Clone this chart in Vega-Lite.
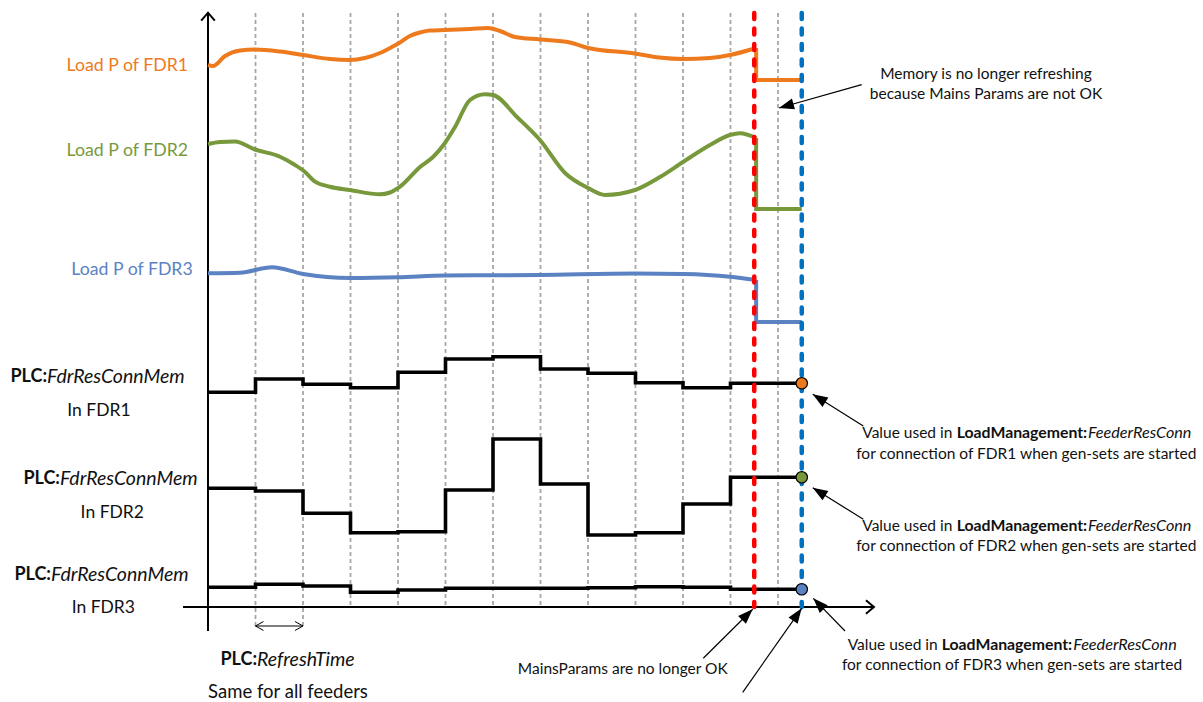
{
  "$schema": "https://vega.github.io/schema/vega-lite/v6.json",
  "width": 1203,
  "height": 702,
  "autosize": {"type": "fit", "contains": "padding"},
  "padding": 0,
  "background": "white",
  "config": {"view": {"stroke": null}, "text": {"font": "Lato", "color": "#111111", "baseline": "middle"}},
  "datasets": {
    "grid": [
      {"t": 1, "v": 59.4, "v2": -2.2}, {"t": 2, "v": 59.4, "v2": -2.2},
      {"t": 3, "v": 59.4, "v2": 0}, {"t": 4, "v": 59.4, "v2": 0}, {"t": 5, "v": 59.4, "v2": 0},
      {"t": 6, "v": 59.4, "v2": 0}, {"t": 7, "v": 59.4, "v2": 0}, {"t": 8, "v": 59.4, "v2": 0},
      {"t": 9, "v": 59.4, "v2": 0}, {"t": 10, "v": 59.4, "v2": 0}, {"t": 11, "v": 59.4, "v2": 0},
      {"t": 12, "v": 59.4, "v2": 0}
    ],
    "axes": [
      {"t": 0, "v": 59.4, "t2": 0, "v2": -2.4},
      {"t": -0.526, "v": 0, "t2": 14.0, "v2": 0}
    ],
    "axisHeads": [
      {"t": 0, "v": 59.43, "heading": 0},
      {"t": 14.02, "v": 0, "heading": 90}
    ],
    "span": [
      {"t": 1, "v": -1.9, "t2": 2, "v2": -1.9}
    ],
    "spanHeads": [
      {"t": 1, "v": -1.9, "heading": 270},
      {"t": 2, "v": -1.9, "heading": 90}
    ],
    "events": [
      {"event": "MainsParams no longer OK", "t": 11.5, "v": 59.4, "v2": 0},
      {"event": "Gen-sets started", "t": 12.5, "v": 59.4, "v2": 0}
    ],
    "load": [
      {"series": "FDR1", "t": 0, "v": 54.2}, {"series": "FDR1", "t": 0.105, "v": 54.1},
      {"series": "FDR1", "t": 0.358, "v": 55.1}, {"series": "FDR1", "t": 0.674, "v": 55.65},
      {"series": "FDR1", "t": 0.99, "v": 55.75}, {"series": "FDR1", "t": 1.516, "v": 55.55},
      {"series": "FDR1", "t": 2.0, "v": 55.2}, {"series": "FDR1", "t": 2.568, "v": 54.8},
      {"series": "FDR1", "t": 2.989, "v": 54.7}, {"series": "FDR1", "t": 3.305, "v": 54.9},
      {"series": "FDR1", "t": 3.62, "v": 55.4}, {"series": "FDR1", "t": 3.87, "v": 56.0},
      {"series": "FDR1", "t": 4.04, "v": 56.45}, {"series": "FDR1", "t": 4.25, "v": 57.1},
      {"series": "FDR1", "t": 4.46, "v": 57.45}, {"series": "FDR1", "t": 4.67, "v": 57.65},
      {"series": "FDR1", "t": 4.99, "v": 57.7}, {"series": "FDR1", "t": 5.516, "v": 57.8},
      {"series": "FDR1", "t": 5.895, "v": 57.9}, {"series": "FDR1", "t": 6.147, "v": 57.6},
      {"series": "FDR1", "t": 6.463, "v": 57.0}, {"series": "FDR1", "t": 6.989, "v": 56.75},
      {"series": "FDR1", "t": 7.62, "v": 56.45}, {"series": "FDR1", "t": 8.0, "v": 55.9},
      {"series": "FDR1", "t": 8.989, "v": 55.35}, {"series": "FDR1", "t": 9.5, "v": 54.95},
      {"series": "FDR1", "t": 10.0, "v": 54.8}, {"series": "FDR1", "t": 10.57, "v": 54.9},
      {"series": "FDR1", "t": 10.99, "v": 55.2}, {"series": "FDR1", "t": 11.54, "v": 55.9},
      {"series": "FDR2", "t": 0, "v": 46.3}, {"series": "FDR2", "t": 0.253, "v": 46.5},
      {"series": "FDR2", "t": 0.568, "v": 46.55}, {"series": "FDR2", "t": 0.989, "v": 45.75},
      {"series": "FDR2", "t": 1.516, "v": 45.03}, {"series": "FDR2", "t": 1.832, "v": 44.2},
      {"series": "FDR2", "t": 2.042, "v": 43.5}, {"series": "FDR2", "t": 2.253, "v": 42.53},
      {"series": "FDR2", "t": 2.568, "v": 42.03}, {"series": "FDR2", "t": 2.989, "v": 41.7},
      {"series": "FDR2", "t": 3.621, "v": 41.27}, {"series": "FDR2", "t": 3.832, "v": 41.45},
      {"series": "FDR2", "t": 4.042, "v": 42.03}, {"series": "FDR2", "t": 4.463, "v": 44.0},
      {"series": "FDR2", "t": 4.737, "v": 45.0}, {"series": "FDR2", "t": 4.989, "v": 46.4},
      {"series": "FDR2", "t": 5.2, "v": 48.0}, {"series": "FDR2", "t": 5.516, "v": 50.7},
      {"series": "FDR2", "t": 5.832, "v": 51.27}, {"series": "FDR2", "t": 6.0, "v": 51.2},
      {"series": "FDR2", "t": 6.505, "v": 49.0}, {"series": "FDR2", "t": 6.989, "v": 46.7},
      {"series": "FDR2", "t": 7.516, "v": 43.4}, {"series": "FDR2", "t": 8.0, "v": 41.9},
      {"series": "FDR2", "t": 8.358, "v": 41.2}, {"series": "FDR2", "t": 8.989, "v": 41.7},
      {"series": "FDR2", "t": 9.516, "v": 43.0}, {"series": "FDR2", "t": 10.0, "v": 44.5},
      {"series": "FDR2", "t": 10.568, "v": 46.2}, {"series": "FDR2", "t": 10.989, "v": 47.2},
      {"series": "FDR2", "t": 11.2, "v": 47.37}, {"series": "FDR2", "t": 11.54, "v": 46.9},
      {"series": "FDR3", "t": 0, "v": 33.37}, {"series": "FDR3", "t": 0.674, "v": 33.43},
      {"series": "FDR3", "t": 1.347, "v": 33.97}, {"series": "FDR3", "t": 2.0, "v": 33.3},
      {"series": "FDR3", "t": 2.989, "v": 32.9}, {"series": "FDR3", "t": 4.0, "v": 32.97},
      {"series": "FDR3", "t": 4.989, "v": 33.15}, {"series": "FDR3", "t": 6.989, "v": 33.2},
      {"series": "FDR3", "t": 8.989, "v": 33.35}, {"series": "FDR3", "t": 10.0, "v": 33.3},
      {"series": "FDR3", "t": 10.989, "v": 33.03}, {"series": "FDR3", "t": 11.54, "v": 32.7}
    ],
    "hold": [
      {"series": "FDR1", "t": 11.54, "v": 55.9}, {"series": "FDR1", "t": 11.54, "v": 52.7}, {"series": "FDR1", "t": 12.5, "v": 52.7},
      {"series": "FDR2", "t": 11.54, "v": 46.9}, {"series": "FDR2", "t": 11.54, "v": 39.8}, {"series": "FDR2", "t": 12.5, "v": 39.8},
      {"series": "FDR3", "t": 11.54, "v": 32.7}, {"series": "FDR3", "t": 11.54, "v": 28.5}, {"series": "FDR3", "t": 12.5, "v": 28.5}
    ],
    "mem": [
      {"series": "FDR1", "t": 0, "v": 21.47}, {"series": "FDR1", "t": 1, "v": 22.8}, {"series": "FDR1", "t": 2, "v": 22.27},
      {"series": "FDR1", "t": 3, "v": 21.93}, {"series": "FDR1", "t": 4, "v": 23.47}, {"series": "FDR1", "t": 5, "v": 24.8},
      {"series": "FDR1", "t": 6, "v": 25.03}, {"series": "FDR1", "t": 7, "v": 23.8}, {"series": "FDR1", "t": 8, "v": 23.37},
      {"series": "FDR1", "t": 9, "v": 22.43}, {"series": "FDR1", "t": 10, "v": 21.93}, {"series": "FDR1", "t": 11, "v": 22.37},
      {"series": "FDR1", "t": 12.5, "v": 22.37},
      {"series": "FDR2", "t": 0, "v": 11.87}, {"series": "FDR2", "t": 1, "v": 11.6}, {"series": "FDR2", "t": 2, "v": 9.37},
      {"series": "FDR2", "t": 3, "v": 7.43}, {"series": "FDR2", "t": 4, "v": 7.53}, {"series": "FDR2", "t": 5, "v": 11.7},
      {"series": "FDR2", "t": 6, "v": 16.8}, {"series": "FDR2", "t": 7, "v": 12.3}, {"series": "FDR2", "t": 8, "v": 7.2},
      {"series": "FDR2", "t": 9, "v": 7.43}, {"series": "FDR2", "t": 10, "v": 10.3}, {"series": "FDR2", "t": 11, "v": 12.97},
      {"series": "FDR2", "t": 12.5, "v": 12.97},
      {"series": "FDR3", "t": 0, "v": 1.97}, {"series": "FDR3", "t": 1, "v": 2.27}, {"series": "FDR3", "t": 2, "v": 2.1},
      {"series": "FDR3", "t": 3, "v": 1.47}, {"series": "FDR3", "t": 4, "v": 1.7}, {"series": "FDR3", "t": 5, "v": 1.87},
      {"series": "FDR3", "t": 6, "v": 1.87}, {"series": "FDR3", "t": 7, "v": 1.87}, {"series": "FDR3", "t": 8, "v": 1.93},
      {"series": "FDR3", "t": 9, "v": 2.03}, {"series": "FDR3", "t": 10, "v": 1.97}, {"series": "FDR3", "t": 11, "v": 1.77},
      {"series": "FDR3", "t": 12.5, "v": 1.77}
    ],
    "used": [
      {"series": "FDR1", "t": 12.5, "v": 22.37},
      {"series": "FDR2", "t": 12.5, "v": 12.97},
      {"series": "FDR3", "t": 12.5, "v": 1.77}
    ],
    "arrows": [
      {"t": 12.021, "v": 49.9, "t2": 13.762, "v2": 52.23, "heading": 254.3},
      {"t": 12.731, "v": 21.27, "t2": 13.796, "v2": 18.1, "heading": 302.1},
      {"t": 12.731, "v": 11.93, "t2": 13.796, "v2": 8.77, "heading": 302.0},
      {"t": 12.743, "v": 0.87, "t2": 13.411, "v2": -2.4, "heading": 315.9},
      {"t": 11.467, "v": -0.23, "t2": 10.427, "v2": -5.13, "heading": 45.2},
      {"t": 12.499, "v": -0.13, "t2": 11.257, "v2": -8.53, "heading": 35.1}
    ],
    "labels": [
      {"kind": "load", "series": "FDR1", "t": -0.421, "v": 54.15, "text": "Load P of FDR1"},
      {"kind": "load", "series": "FDR2", "t": -0.421, "v": 45.65, "text": "Load P of FDR2"},
      {"kind": "load", "series": "FDR3", "t": -0.322, "v": 33.73, "text": "Load P of FDR3"},
      {"kind": "keyBold", "t": -3.389, "v": 23.0, "text": "PLC:"},
      {"kind": "keyItalic", "t": -3.389, "v": 23.0, "text": "FdrResConnMem"},
      {"kind": "keyBold", "t": -3.116, "v": 12.8, "text": "PLC:"},
      {"kind": "keyItalic", "t": -3.116, "v": 12.8, "text": "FdrResConnMem"},
      {"kind": "keyBold", "t": -3.305, "v": 3.25, "text": "PLC:"},
      {"kind": "keyItalic", "t": -3.305, "v": 3.25, "text": "FdrResConnMem"},
      {"kind": "keyBold", "t": 1.032, "v": -5.25, "text": "PLC:"},
      {"kind": "keyItalic", "t": 1.032, "v": -5.25, "text": "RefreshTime"},
      {"kind": "sub", "t": -2.295, "v": 19.58, "text": "In FDR1"},
      {"kind": "sub", "t": -2.015, "v": 9.42, "text": "In FDR2"},
      {"kind": "sub", "t": -2.204, "v": -0.08, "text": "In FDR3"},
      {"kind": "subWide", "t": 1.684, "v": -8.53, "text": "Same for all feeders"},
      {"kind": "note", "t": 16.379, "v": 53.3, "text": "Memory is no longer refreshing"},
      {"kind": "note", "t": 16.379, "v": 51.3, "text": "because Mains Params are not OK"},
      {"kind": "note", "t": 8.733, "v": -6.17, "text": "MainsParams are no longer OK"},
      {"kind": "note", "t": 17.227, "v": 15.32, "text": "for connection of FDR1 when gen-sets are started"},
      {"kind": "note", "t": 17.227, "v": 6.12, "text": "for connection of FDR2 when gen-sets are started"},
      {"kind": "note", "t": 16.926, "v": -5.75, "text": "for connection of FDR3 when gen-sets are started"},
      {"kind": "noteLead", "t": 13.775, "v": 17.38, "text": "Value used in"},
      {"kind": "noteBold", "t": 15.762, "v": 17.38, "text": "LoadManagement:"},
      {"kind": "noteItalic", "t": 18.526, "v": 17.38, "text": "FeederResConn"},
      {"kind": "noteLead", "t": 13.775, "v": 8.12, "text": "Value used in"},
      {"kind": "noteBold", "t": 15.762, "v": 8.12, "text": "LoadManagement:"},
      {"kind": "noteItalic", "t": 18.526, "v": 8.12, "text": "FeederResConn"},
      {"kind": "noteLead", "t": 13.467, "v": -3.78, "text": "Value used in"},
      {"kind": "noteBold", "t": 15.446, "v": -3.78, "text": "LoadManagement:"},
      {"kind": "noteItalic", "t": 18.217, "v": -3.78, "text": "FeederResConn"}
    ]
  },
  "encoding": {
    "x": {"field": "t", "type": "quantitative", "scale": {"domain": [-4.3789, 20.9474], "nice": false, "zero": false}, "axis": null},
    "y": {"field": "v", "type": "quantitative", "scale": {"domain": [-9.5, 60.7], "nice": false, "zero": false}, "axis": null}
  },
  "layer": [
    {
      "data": {"name": "grid"},
      "mark": {"type": "rule", "color": "#A6A6A6", "strokeWidth": 1.8, "strokeDash": [4, 3]},
      "encoding": {"y2": {"field": "v2"}}
    },
    {
      "data": {"name": "axes"},
      "mark": {"type": "rule", "color": "#000000", "strokeWidth": 2},
      "encoding": {"x2": {"field": "t2"}, "y2": {"field": "v2"}}
    },
    {
      "data": {"name": "axisHeads"},
      "mark": {"type": "point", "shape": "M -0.85 1 L 0 0 L 0.85 1", "filled": false, "stroke": "#000000", "strokeWidth": 2, "size": 256, "opacity": 1},
      "encoding": {"angle": {"field": "heading", "type": "quantitative", "scale": null}}
    },
    {
      "data": {"name": "span"},
      "mark": {"type": "rule", "color": "#000000", "strokeWidth": 1},
      "encoding": {"x2": {"field": "t2"}, "y2": {"field": "v2"}}
    },
    {
      "data": {"name": "spanHeads"},
      "mark": {"type": "point", "shape": "M -0.56 1 L 0 0 L 0.56 1", "filled": false, "stroke": "#000000", "strokeWidth": 1, "size": 256, "opacity": 1},
      "encoding": {"angle": {"field": "heading", "type": "quantitative", "scale": null}}
    },
    {
      "data": {"name": "load"},
      "mark": {"type": "line", "interpolate": "monotone", "strokeWidth": 4},
      "encoding": {
        "color": {"field": "series", "type": "nominal", "scale": {"domain": ["FDR1", "FDR2", "FDR3"], "range": ["#EE7A1E", "#77993C", "#5B82C2"]}, "legend": null}
      }
    },
    {
      "data": {"name": "hold"},
      "mark": {"type": "line", "strokeWidth": 4, "strokeJoin": "miter"},
      "encoding": {
        "color": {"field": "series", "type": "nominal", "legend": null},
        "order": {"value": null}
      }
    },
    {
      "data": {"name": "mem"},
      "mark": {"type": "line", "interpolate": "step-after", "color": "#000000", "strokeWidth": 3.6},
      "encoding": {"detail": {"field": "series", "type": "nominal"}}
    },
    {
      "data": {"name": "events"},
      "mark": {"type": "rule", "strokeWidth": 4.5, "strokeDash": [6, 9.5], "strokeCap": "round"},
      "encoding": {
        "y2": {"field": "v2"},
        "stroke": {"field": "event", "type": "nominal", "scale": {"domain": ["MainsParams no longer OK", "Gen-sets started"], "range": ["#FF0000", "#0070C0"]}, "legend": null}
      }
    },
    {
      "data": {"name": "arrows"},
      "mark": {"type": "rule", "color": "#000000", "strokeWidth": 1.2},
      "encoding": {"x2": {"field": "t2"}, "y2": {"field": "v2"}}
    },
    {
      "data": {"name": "arrows"},
      "mark": {"type": "point", "shape": "M 0 0 L -0.37 1 L 0.37 1 Z", "filled": true, "color": "#000000", "size": 900, "opacity": 1},
      "encoding": {"angle": {"field": "heading", "type": "quantitative", "scale": null}}
    },
    {
      "data": {"name": "used"},
      "mark": {"type": "point", "shape": "circle", "filled": true, "size": 130, "stroke": "#000000", "strokeWidth": 1.2, "opacity": 1},
      "encoding": {"fill": {"field": "series", "type": "nominal", "scale": {"domain": ["FDR1", "FDR2", "FDR3"], "range": ["#EE7A1E", "#77993C", "#5B82C2"]}, "legend": null}}
    },
    {
      "data": {"name": "labels"},
      "transform": [{"filter": "datum.kind === 'load'"}],
      "mark": {"type": "text", "align": "right", "fontSize": 17.7},
      "encoding": {"text": {"field": "text"}, "color": {"field": "series", "type": "nominal", "legend": null}}
    },
    {
      "data": {"name": "labels"},
      "transform": [{"filter": "datum.kind === 'keyBold'"}],
      "mark": {"type": "text", "align": "right", "fontSize": 18, "fontWeight": "bold"},
      "encoding": {"text": {"field": "text"}}
    },
    {
      "data": {"name": "labels"},
      "transform": [{"filter": "datum.kind === 'keyItalic'"}],
      "mark": {"type": "text", "align": "left", "fontSize": 19.5, "fontStyle": "italic"},
      "encoding": {"text": {"field": "text"}}
    },
    {
      "data": {"name": "labels"},
      "transform": [{"filter": "datum.kind === 'sub'"}],
      "mark": {"type": "text", "align": "center", "fontSize": 17.5},
      "encoding": {"text": {"field": "text"}}
    },
    {
      "data": {"name": "labels"},
      "transform": [{"filter": "datum.kind === 'subWide'"}],
      "mark": {"type": "text", "align": "center", "fontSize": 18.5},
      "encoding": {"text": {"field": "text"}}
    },
    {
      "data": {"name": "labels"},
      "transform": [{"filter": "datum.kind === 'note'"}],
      "mark": {"type": "text", "align": "center", "fontSize": 15.5},
      "encoding": {"text": {"field": "text"}}
    },
    {
      "data": {"name": "labels"},
      "transform": [{"filter": "datum.kind === 'noteLead'"}],
      "mark": {"type": "text", "align": "left", "fontSize": 15.5},
      "encoding": {"text": {"field": "text"}}
    },
    {
      "data": {"name": "labels"},
      "transform": [{"filter": "datum.kind === 'noteBold'"}],
      "mark": {"type": "text", "align": "left", "fontSize": 15.8, "fontWeight": "bold"},
      "encoding": {"text": {"field": "text"}}
    },
    {
      "data": {"name": "labels"},
      "transform": [{"filter": "datum.kind === 'noteItalic'"}],
      "mark": {"type": "text", "align": "left", "fontSize": 16.2, "fontStyle": "italic"},
      "encoding": {"text": {"field": "text"}}
    }
  ]
}
